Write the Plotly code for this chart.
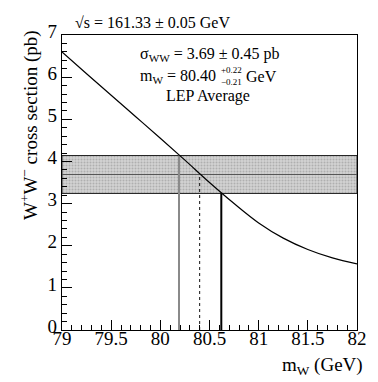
import plotly.graph_objects as go

# ---- data ----
mw_grid = [79.0, 79.25, 79.5, 79.75, 80.0, 80.25, 80.5, 80.75, 81.0, 81.25, 81.5, 81.75, 82.0]
sigma_curve = [6.60, 6.08, 5.57, 5.06, 4.55, 4.03, 3.50, 3.00, 2.54, 2.18, 1.91, 1.71, 1.57]
sigma_ww = 3.69
sigma_err = 0.45
mw_low, mw_central, mw_high = 80.19, 80.40, 80.62
x_range = [79, 82]
y_range = [0, 7]
x_tick_vals = [79, 79.5, 80, 80.5, 81, 81.5, 82]
x_tick_text = ["79", "79.5", "80", "80.5", "81", "81.5", "82"]
y_tick_vals = [0, 1, 2, 3, 4, 5, 6, 7]
y_tick_text = ["0", "1", "2", "3", "4", "5", "6", "7"]

W, H = 378, 382
L, R, T, B = 54, 349, 27, 322
FONT = "Liberation Serif"


def px(x):
    return (x - L) / (R - L)


def py(y):
    return (B - y) / (B - T)


fig = go.Figure()

band_lo = sigma_ww - sigma_err
band_hi = sigma_ww + sigma_err

fig.add_trace(go.Scatter(
    x=[x_range[0], x_range[1], x_range[1], x_range[0], x_range[0]],
    y=[band_lo, band_lo, band_hi, band_hi, band_lo],
    fill="toself", fillcolor="#cbcbcb",
    fillpattern=dict(shape=".", bgcolor="#d2d2d2", fgcolor="#8c8c8c", size=3, solidity=0.35),
    mode="lines",
    line=dict(color="#222222", width=1), showlegend=False, hoverinfo="skip"))
fig.add_trace(go.Scatter(x=x_range, y=[sigma_ww, sigma_ww], mode="lines",
                         line=dict(color="#555555", width=1), showlegend=False))

fig.add_trace(go.Scatter(x=[mw_low, mw_low], y=[0, band_hi], mode="lines",
                         line=dict(color="#8a8a8a", width=2), showlegend=False))
fig.add_trace(go.Scatter(x=[mw_central, mw_central], y=[0, sigma_ww], mode="lines",
                         line=dict(color="#111111", width=1, dash="dot"), showlegend=False))
fig.add_trace(go.Scatter(x=[mw_high, mw_high], y=[0, band_lo], mode="lines",
                         line=dict(color="#000000", width=2), showlegend=False))

fig.add_trace(go.Scatter(x=mw_grid, y=sigma_curve, mode="lines", line_shape="spline",
                         line=dict(color="#000000", width=1.2), showlegend=False))

axis_common = dict(
    showline=True, linecolor="black", linewidth=1.3, mirror=True,
    ticks="inside", ticklen=10, tickwidth=1, tickcolor="black",
    showgrid=False, zeroline=False,
    tickfont=dict(family=FONT, size=19, color="black"),
)
fig.update_xaxes(range=x_range, tickvals=x_tick_vals, ticktext=x_tick_text,
                 ticklabelstandoff=-9,
                 minor=dict(dtick=0.1, ticks="inside", ticklen=5, tickcolor="black", showgrid=False),
                 **axis_common)
fig.update_yaxes(range=y_range, tickvals=y_tick_vals, ticktext=y_tick_text,
                 ticklabelshift=-4,
                 minor=dict(dtick=0.2, ticks="inside", ticklen=5, tickcolor="black", showgrid=False),
                 **axis_common)

ann = []
f16 = dict(family=FONT, size=16, color="black")
f_small = dict(family=FONT, size=9, color="black")
ann.append(dict(x=px(65), y=py(14), text="√s = 161.33 ± 0.05 GeV", xanchor="left",
                yanchor="middle", font=f16))
ann.append(dict(x=px(130), y=py(46), text="σ<sub>WW</sub> = 3.69 ± 0.45 pb", xanchor="left",
                yanchor="middle", font=f16))
ann.append(dict(x=px(130), y=py(68), text="m<sub>W</sub> = 80.40", xanchor="left",
                yanchor="middle", font=f16))
ann.append(dict(x=px(211), y=py(62), text="+0.22", xanchor="left", yanchor="middle", font=f_small))
ann.append(dict(x=px(211), y=py(74), text="−0.21", xanchor="left", yanchor="middle", font=f_small))
ann.append(dict(x=px(236), y=py(68), text="GeV", xanchor="left", yanchor="middle", font=f16))
ann.append(dict(x=px(200), y=py(88), text="LEP Average", xanchor="center", yanchor="middle", font=f16))
ann.append(dict(x=px(314), y=py(358), text="m<sub>W</sub> (GeV)", xanchor="center",
                yanchor="middle", font=dict(family=FONT, size=19, color="black")))
ann.append(dict(x=px(22), y=py(117), text="W<sup>+</sup>W<sup>−</sup> cross section (pb)",
                textangle=-90, xanchor="center", yanchor="middle",
                font=dict(family=FONT, size=19, color="black")))
for a in ann:
    a.update(xref="paper", yref="paper", showarrow=False)

fig.update_layout(
    width=W, height=H,
    margin=dict(l=L, r=W - R, t=T, b=H - B, autoexpand=False),
    plot_bgcolor="white", paper_bgcolor="white",
    annotations=ann, showlegend=False,
)

fig.write_html("out.html")
